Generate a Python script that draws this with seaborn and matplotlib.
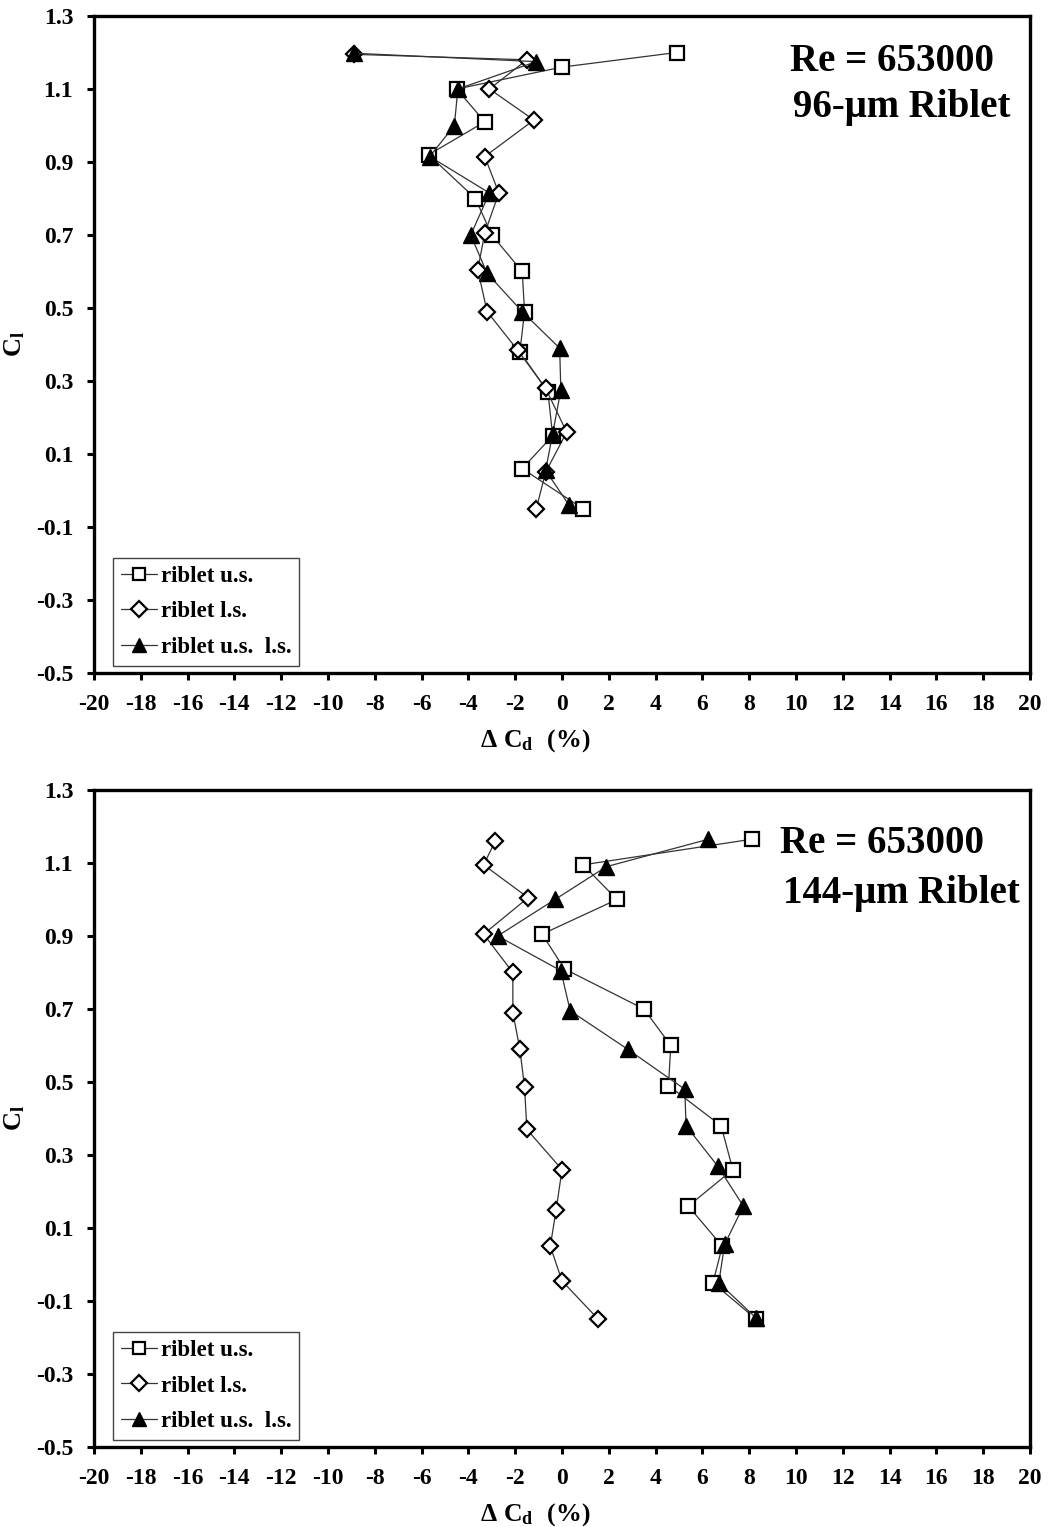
import matplotlib
matplotlib.use("Agg")
import matplotlib.pyplot as plt
import seaborn as sns
import pandas as pd

# ---------------- data ----------------
# Top panel: 96-um riblet
top_us_x = [4.9, 0.0, -4.5, -3.3, -5.7, -3.7, -3.0, -1.7, -1.6, -1.8, -0.6, -0.4, -1.7, 0.9]
top_us_y = [1.20, 1.16, 1.10, 1.01, 0.92, 0.80, 0.70, 0.60, 0.49, 0.38, 0.27, 0.15, 0.06, -0.05]
top_ls_x = [-8.9, -1.5, -3.1, -1.2, -3.3, -2.7, -3.3, -3.6, -3.2, -1.9, -0.7, 0.2, -0.7, -1.1]
top_ls_y = [1.195, 1.18, 1.10, 1.015, 0.915, 0.815, 0.705, 0.605, 0.49, 0.385, 0.28, 0.16, 0.05, -0.05]
top_both_x = [-8.9, -1.1, -4.45, -4.6, -5.65, -3.1, -3.9, -3.2, -1.7, -0.1, -0.05, -0.4, -0.7, 0.3]
top_both_y = [1.198, 1.175, 1.10, 1.00, 0.915, 0.815, 0.70, 0.595, 0.49, 0.39, 0.275, 0.155, 0.055, -0.04]

# Bottom panel: 144-um riblet
bot_us_x = [8.1, 0.9, 2.35, -0.85, 0.1, 3.5, 4.65, 4.55, 6.8, 7.3, 5.4, 6.85, 6.45, 8.3]
bot_us_y = [1.165, 1.095, 1.00, 0.905, 0.81, 0.70, 0.60, 0.49, 0.38, 0.26, 0.16, 0.05, -0.05, -0.15]
bot_ls_x = [-2.85, -3.35, -1.45, -3.35, -2.1, -2.1, -1.8, -1.6, -1.5, 0.0, -0.25, -0.5, 0.0, 1.55]
bot_ls_y = [1.16, 1.095, 1.005, 0.905, 0.80, 0.69, 0.59, 0.485, 0.37, 0.26, 0.15, 0.05, -0.045, -0.15]
bot_both_x = [6.25, 1.9, -0.3, -2.75, -0.05, 0.35, 2.8, 5.25, 5.3, 6.65, 7.75, 6.95, 6.7, 8.3]
bot_both_y = [1.165, 1.09, 1.00, 0.90, 0.805, 0.695, 0.59, 0.48, 0.38, 0.27, 0.16, 0.055, -0.05, -0.147]

series_labels = ["riblet u.s.", "riblet l.s.", "riblet u.s.  l.s."]
panel_titles = [("Re = 653000", "96-\u03bcm Riblet"), ("Re = 653000", "144-\u03bcm Riblet")]
x_ticks = list(range(-20, 21, 2))
y_ticks = [-0.5, -0.3, -0.1, 0.1, 0.3, 0.5, 0.7, 0.9, 1.1, 1.3]

# ---------------- style ----------------
sns.set_style("white")
plt.rcParams["font.family"] = ["Liberation Serif", "DejaVu Serif"]
plt.rcParams["font.weight"] = "bold"
plt.rcParams["text.color"] = "black"
plt.rcParams["axes.labelcolor"] = "black"
plt.rcParams["xtick.color"] = "black"
plt.rcParams["ytick.color"] = "black"
plt.rcParams["mathtext.fontset"] = "custom"
plt.rcParams["mathtext.rm"] = "Liberation Serif:bold"
plt.rcParams["mathtext.bf"] = "Liberation Serif:bold"
plt.rcParams["mathtext.it"] = "Liberation Serif:bold"

fig = plt.figure(figsize=(10.49, 15.27), dpi=100)
ax_top = fig.add_axes([0.0896, 0.55927, 0.8923, 0.43025])
ax_bot = fig.add_axes([0.0896, 0.05239, 0.8923, 0.43026])

marker_styles = [
    dict(marker="s", markersize=10, markerfacecolor="white", markeredgecolor="black", markeredgewidth=1.6),
    dict(marker="D", markersize=8.5, markerfacecolor="white", markeredgecolor="black", markeredgewidth=1.6),
    dict(marker="^", markersize=11, markerfacecolor="black", markeredgecolor="black", markeredgewidth=1.0),
]

panels = [
    (ax_top, [(top_us_x, top_us_y), (top_ls_x, top_ls_y), (top_both_x, top_both_y)], panel_titles[0], (0.744, 0.930, 0.860)),
    (ax_bot, [(bot_us_x, bot_us_y), (bot_ls_x, bot_ls_y), (bot_both_x, bot_both_y)], panel_titles[1], (0.733, 0.919, 0.843)),
]

for ax, data, titles, tpos in panels:
    for (xs, ys), lab, ms in zip(data, series_labels, marker_styles):
        df = pd.DataFrame({"x": xs, "y": ys})
        sns.lineplot(data=df, x="x", y="y", sort=False, estimator=None, ax=ax,
                     color="#333333", linewidth=0.9, label=lab, **ms)
    ax.set_xlim(-20, 20)
    ax.set_ylim(-0.5, 1.3)
    ax.set_xticks(x_ticks)
    ax.set_yticks(y_ticks)
    ax.set_xticklabels([str(t) for t in x_ticks])
    ax.set_yticklabels([f"{t:.1f}" for t in y_ticks])
    ax.tick_params(axis="both", which="major", direction="out", length=5, width=2.2,
                   labelsize=17, bottom=True, left=True, top=False, right=False, color="black")
    for lbl in ax.get_xticklabels() + ax.get_yticklabels():
        lbl.set_fontweight("bold")
    ax.tick_params(axis="x", pad=10)
    ax.tick_params(axis="y", pad=10)
    for sp in ax.spines.values():
        sp.set_visible(True)
        sp.set_linewidth(2.4)
        sp.set_color("black")
    ax.grid(False)
    ax.set_facecolor("white")
    ax.set_xlabel(r"$\Delta\ C_d\ \ (\%)$", fontsize=18.5)
    ax.set_ylabel(r"$C_l$", fontsize=19)
    ax.xaxis.set_label_coords(0.471, -0.083)
    ax.yaxis.set_label_coords(-0.072, 0.5)
    ax.text(tpos[0], tpos[1], titles[0], transform=ax.transAxes, fontsize=28,
            fontweight="bold", ha="left", va="center")
    ax.text(tpos[0] + 0.003, tpos[2], titles[1], transform=ax.transAxes, fontsize=28,
            fontweight="bold", ha="left", va="center")
    leg = ax.legend(loc="lower left", bbox_to_anchor=(0.02, 0.011), borderaxespad=0,
                    frameon=True, fancybox=False, edgecolor="#444444", framealpha=1,
                    prop={"family": "Liberation Serif", "weight": "bold", "size": 16.5},
                    handlelength=1.6, handletextpad=0.15, labelspacing=0.62,
                    borderpad=0.35, markerscale=0.9)
    leg.get_frame().set_linewidth(1.0)

fig.savefig("out.png", dpi=100, facecolor="white")
